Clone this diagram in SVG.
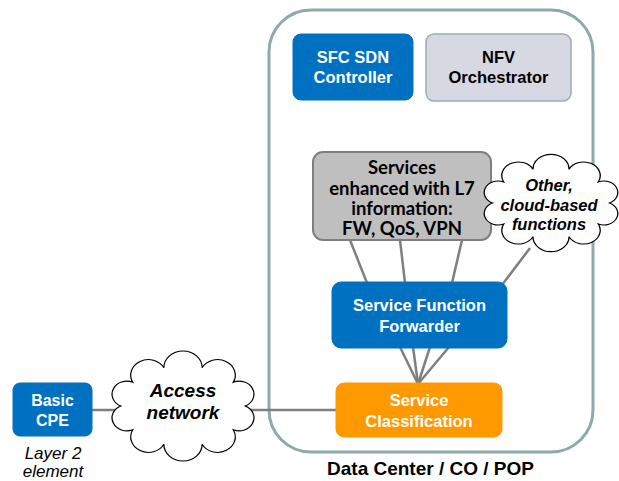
<svg xmlns="http://www.w3.org/2000/svg" width="619" height="481" viewBox="0 0 619 481">
<defs>
<style>
.wt{font-family:"Liberation Sans",Arial,sans-serif;font-weight:bold;font-size:16.5px;fill:#fff;text-anchor:middle}
.bt{font-family:"Liberation Sans",Arial,sans-serif;font-weight:bold;font-size:16.5px;fill:#000;text-anchor:middle}
.ct{font-family:Lato,"Liberation Sans",sans-serif;font-weight:bold;font-size:18.5px;fill:#000;text-anchor:middle}
.it{font-family:"Liberation Sans",Arial,sans-serif;font-weight:bold;font-style:italic;fill:#000;text-anchor:middle}
.lt{font-family:"Liberation Sans",Arial,sans-serif;font-style:italic;font-size:17px;fill:#000;text-anchor:middle}
.conn line{stroke:#7F7F7F;stroke-width:2.5}
.cloud{fill:#fff;stroke:#000}
</style>
<path id="cloudShape" d="M38,0 A1,1 0 0 1 30.7,16.5 A1,1 0 0 1 11.7,26.6 A1,1 0 0 1 -11.7,26.6 A1,1 0 0 1 -30.7,16.5 A1,1 0 0 1 -38,0 A1,1 0 0 1 -30.7,-16.5 A1,1 0 0 1 -11.7,-26.6 A1,1 0 0 1 11.7,-26.6 A1,1 0 0 1 30.7,-16.5 A1,1 0 0 1 38,0 Z"/>
</defs>
<rect width="619" height="481" fill="#fff"/>
<g id="datacenter">
<rect x="269" y="10" width="324" height="442" rx="42" fill="#fff" stroke="#8FA9AB" stroke-width="3"/>
<text class="bt" x="430.5" y="475" style="font-size:19px">Data Center / CO / POP</text>
</g>
<g class="conn" id="connectors">
<line x1="92" y1="410" x2="130" y2="410"/>
<line x1="240" y1="410" x2="336" y2="410"/>
<line x1="350" y1="240" x2="367" y2="283"/>
<line x1="400" y1="240" x2="405" y2="283"/>
<line x1="462" y1="240" x2="452" y2="283"/>
<line x1="530" y1="248" x2="502" y2="285"/>
<line x1="400" y1="347" x2="418" y2="384"/>
<line x1="413" y1="347" x2="418" y2="384"/>
<line x1="430" y1="347" x2="418" y2="384"/>
<line x1="449" y1="347" x2="418" y2="384"/>
</g>
<g id="sfc-controller">
<rect x="293" y="34" width="120" height="66" rx="8" fill="#0070C0" stroke="#0070C0"/>
<text class="wt" x="353" y="63">SFC SDN</text>
<text class="wt" x="353" y="83">Controller</text>
</g>
<g id="nfv-orchestrator">
<rect x="426" y="34" width="145" height="67" rx="8" fill="#D6D8E2" stroke="#9AADB0" stroke-width="1.5"/>
<text class="bt" x="498.5" y="63">NFV</text>
<text class="bt" x="498.5" y="83">Orchestrator</text>
</g>
<g id="services">
<rect x="313" y="152" width="178" height="88" rx="10" fill="#BFBFBF" stroke="#7F7F7F" stroke-width="2"/>
<text class="ct" x="402" y="174">Services</text>
<text class="ct" x="402" y="195">enhanced with L7</text>
<text class="ct" x="402" y="215">information:</text>
<text class="ct" x="402" y="235">FW, QoS, VPN</text>
</g>
<g id="other-cloud">
<use href="#cloudShape" class="cloud" transform="translate(551,203) scale(1.54,1.27)" style="stroke-width:0.85"/>
<text class="it" x="549" y="191" style="font-size:16.5px">Other,</text>
<text class="it" x="549" y="211" style="font-size:16.5px">cloud-based</text>
<text class="it" x="549" y="230" style="font-size:16.5px">functions</text>
</g>
<g id="sff">
<rect x="332" y="282" width="175" height="66" rx="9" fill="#0070C0" stroke="#0070C0"/>
<text class="wt" x="419.5" y="311">Service Function</text>
<text class="wt" x="419.5" y="332">Forwarder</text>
</g>
<g id="classification">
<rect x="336" y="383" width="166" height="54" rx="8" fill="#FF9900" stroke="#FF9900"/>
<text class="wt" x="419" y="406">Service</text>
<text class="wt" x="419" y="427">Classification</text>
</g>
<g id="access-cloud">
<use href="#cloudShape" class="cloud" transform="translate(183,406) scale(1.636,1.436)" style="stroke-width:0.75"/>
<text class="it" x="183" y="397" style="font-size:19px">Access</text>
<text class="it" x="183" y="419" style="font-size:19px">network</text>
</g>
<g id="basic-cpe">
<rect x="13" y="383" width="79" height="53" rx="7" fill="#0070C0" stroke="#0070C0"/>
<text class="wt" x="52.5" y="406" style="font-size:16px">Basic</text>
<text class="wt" x="52.5" y="426" style="font-size:16px">CPE</text>
<text class="lt" x="53" y="459">Layer 2</text>
<text class="lt" x="53" y="477">element</text>
</g>
</svg>
